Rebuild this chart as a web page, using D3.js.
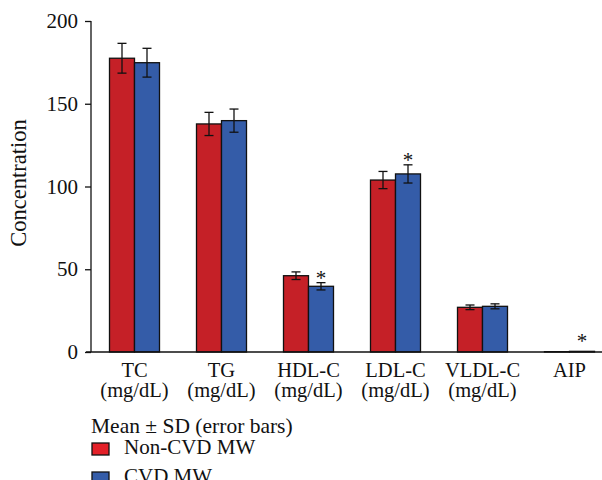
<!DOCTYPE html>
<html>
<head>
<meta charset="utf-8">
<script src="https://cdn.jsdelivr.net/npm/d3@7/dist/d3.min.js"></script>
<style>
  body { margin: 0; background: #fff; }
  svg text { font-family: "Liberation Serif", "DejaVu Serif", serif; fill: #111; }
</style>
</head>
<body>
<svg id="chart" width="602" height="480"></svg>
<script>
var categories = ["TC", "TG", "HDL-C", "LDL-C", "VLDL-C", "AIP"]
var units = ["(mg/dL)", "(mg/dL)", "(mg/dL)", "(mg/dL)", "(mg/dL)", ""]
var groups = ["Non-CVD MW", "CVD MW"]
var nonCvdMean = [177.5, 137.8, 46.1, 103.9, 27.0, 0.2]
var nonCvdSd = [9.0, 7.0, 2.3, 5.2, 1.4, 0.05]
var cvdMean = [174.8, 139.8, 39.7, 107.6, 27.6, 0.4]
var cvdSd = [8.7, 7.0, 2.2, 5.5, 1.5, 0.05]
var starred = [false, false, true, true, false, true]
var yTicks = [0, 50, 100, 150, 200]
var colors = ["#c52027", "#345ca8"]

var svg = d3.select('#chart')

var x = d3.scaleBand().domain(categories).range([91, 613]).paddingInner(0).paddingOuter(0)
var x1 = d3.scaleBand().domain(groups).range([0, 50])
var y = d3.scaleLinear().domain([0, 200]).range([352, 21])

var rows = categories.map(function (c, i) {
  return [
    {cat: c, g: groups[0], m: nonCvdMean[i], sd: nonCvdSd[i], star: false},
    {cat: c, g: groups[1], m: cvdMean[i], sd: cvdSd[i], star: starred[i]}
  ]
})

// y axis
var yAxis = svg.append('g')
  .attr('transform', 'translate(91,0)')
  .call(d3.axisLeft(y).tickValues(yTicks).tickSize(6).tickPadding(7))
yAxis.select('.domain').attr('stroke', '#111').attr('stroke-width', 1.3).attr('d', 'M0,' + y(200) + 'V' + y(0))
yAxis.selectAll('.tick line').attr('stroke', '#111').attr('stroke-width', 1.3)
yAxis.selectAll('.tick text').attr('font-size', 21).attr('font-family', '"Liberation Serif", serif').attr('fill', '#111')

svg.append('text')
  .attr('transform', 'translate(26,' + 183 + ') rotate(-90)')
  .attr('text-anchor', 'middle')
  .attr('font-size', 22.5)
  .text('Concentration')

var g = svg.selectAll('.grp').data(rows).enter().append('g')
  .attr('class', 'grp')
  .attr('transform', function (d, i) { return 'translate(' + (x(categories[i]) + x.bandwidth() / 2 - 25) + ',0)' })

g.selectAll('rect').data(function (d) { return d }).enter().append('rect')
  .attr('x', function (d) { return x1(d.g) })
  .attr('y', function (d) { return y(d.m) })
  .attr('width', x1.bandwidth())
  .attr('height', function (d) { return y(0) - y(d.m) })
  .attr('fill', function (d, i) { return colors[i] })
  .attr('stroke', '#111')
  .attr('stroke-width', 1.3)

var eb = g.selectAll('.err').data(function (d) { return d.filter(function (r) { return r.m > 1 }) }).enter().append('g')
  .attr('class', 'err')
  .attr('stroke', '#111')
  .attr('stroke-width', 1.3)
eb.append('line')
  .attr('x1', function (d) { return x1(d.g) + x1.bandwidth() / 2 })
  .attr('x2', function (d) { return x1(d.g) + x1.bandwidth() / 2 })
  .attr('y1', function (d) { return y(d.m + d.sd) })
  .attr('y2', function (d) { return y(d.m - d.sd) })
;[1, -1].forEach(function (s) {
  eb.append('line')
    .attr('x1', function (d) { return x1(d.g) + x1.bandwidth() / 2 - 4.5 })
    .attr('x2', function (d) { return x1(d.g) + x1.bandwidth() / 2 + 4.5 })
    .attr('y1', function (d) { return y(d.m + s * d.sd) })
    .attr('y2', function (d) { return y(d.m + s * d.sd) })
})

g.selectAll('.star').data(function (d) { return d.filter(function (r) { return r.star }) }).enter().append('text')
  .attr('class', 'star')
  .attr('x', function (d) { return x1(d.g) + x1.bandwidth() / 2 })
  .attr('y', function (d) { return y(d.m + d.sd) - 3 + (d.m < 1 ? -6 : 0) })
  .attr('text-anchor', 'middle')
  .attr('font-size', 21)
  .attr('dy', '0.55em')
  .attr('transform', 'translate(0,-6)')
  .text('*')

// baseline
svg.append('line')
  .attr('x1', 86).attr('x2', 602)
  .attr('y1', y(0)).attr('y2', y(0))
  .attr('stroke', '#111').attr('stroke-width', 1.3)

// x labels
var xl = svg.selectAll('.xl').data(categories).enter().append('text')
  .attr('class', 'xl')
  .attr('text-anchor', 'middle')
  .attr('font-size', 20.5)
  .attr('x', function (d) { return x(d) + x.bandwidth() / 2 })
  .attr('y', 377)
xl.append('tspan').text(function (d) { return d })
xl.append('tspan')
  .attr('x', function (d) { return x(d) + x.bandwidth() / 2 })
  .attr('dy', 20)
  .text(function (d, i) { return units[i] })

// legend
svg.append('text').attr('x', 91).attr('y', 433).attr('font-size', 21.5).text('Mean \u00b1 SD (error bars)')
var lg = svg.selectAll('.lg').data(groups).enter().append('g')
  .attr('class', 'lg')
  .attr('transform', function (d, i) { return 'translate(92,' + (443 + i * 29) + ')' })
lg.append('rect').attr('width', 17).attr('height', 12)
  .attr('fill', function (d, i) { return i ? colors[1] : '#e32028' })
  .attr('stroke', '#111').attr('stroke-width', 1.3)
lg.append('text').attr('x', 32).attr('y', 11).attr('font-size', 21).text(function (d) { return d })
</script>
</body>
</html>
